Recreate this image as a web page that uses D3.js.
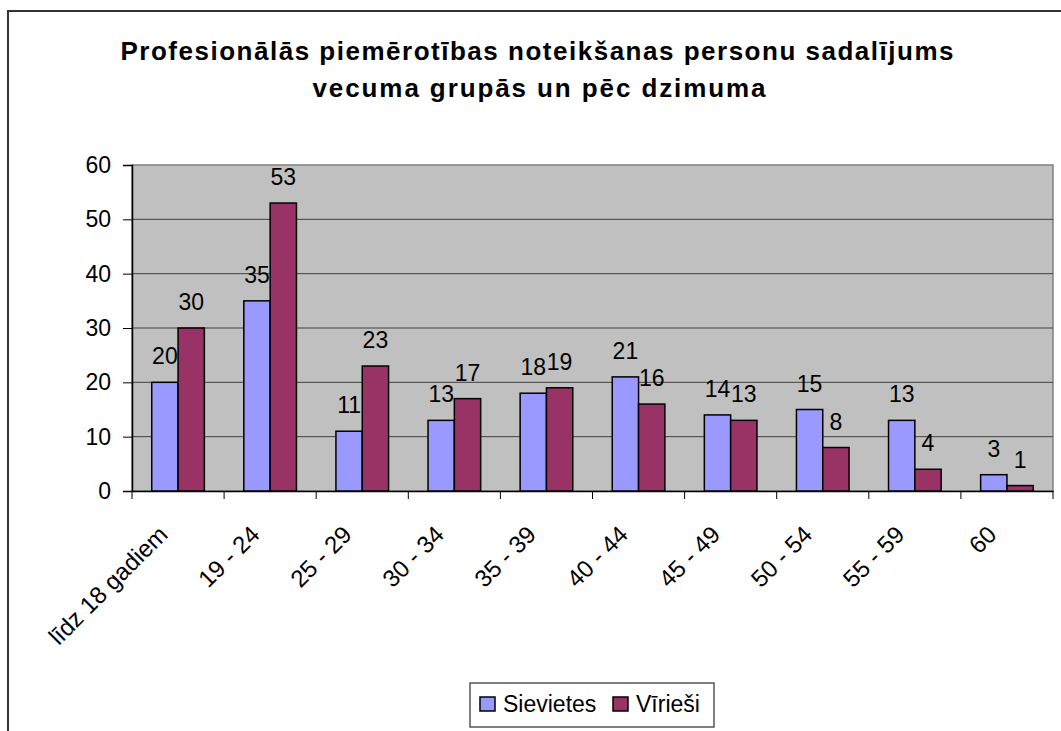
<!DOCTYPE html>
<html>
<head>
<meta charset="utf-8">
<script src="https://cdn.jsdelivr.net/npm/d3@7"></script>
<style>
  body { margin: 0; background: #fff; }
  svg text { font-family: "Liberation Sans", Arial, sans-serif; }
</style>
</head>
<body>
<svg id="chart"></svg>
<script>
var categories = ["līdz 18 gadiem", "19 - 24", "25 - 29", "30 - 34", "35 - 39", "40 - 44", "45 - 49", "50 - 54", "55 - 59", "60"];
var sievietes = [20, 35, 11, 13, 18, 21, 14, 15, 13, 3];
var virieši = [30, 53, 23, 17, 19, 16, 13, 8, 4, 1];
var seriesNames = ["Sievietes", "Vīrieši"];
var seriesColors = ["#9999FF", "#993366"];
var yTicks = [0, 10, 20, 30, 40, 50, 60];

var svgWidth = 1061, svgHeight = 731;
var plot = { left: 132, top: 165, right: 1053, bottom: 491 };

var svg = d3.select("#chart")
    .attr("width", svgWidth)
    .attr("height", svgHeight);

// chart frame
svg.append("rect")
    .attr("x", 8).attr("y", 11)
    .attr("width", 1070).attr("height", 740)
    .attr("fill", "#fff")
    .attr("stroke", "#333")
    .attr("stroke-width", 2);

// title
var title = svg.append("text")
    .attr("text-anchor", "middle")
    .style("font-weight", "bold")
    .style("font-size", "26px");
title.append("tspan").attr("x", 537).attr("y", 60)
    .attr("textLength", 833).attr("lengthAdjust", "spacing")
    .text("Profesionālās piemērotības noteikšanas personu sadalījums");
title.append("tspan").attr("x", 539).attr("y", 97)
    .attr("textLength", 453).attr("lengthAdjust", "spacing")
    .text("vecuma grupās un pēc dzimuma");

var x = d3.scaleBand()
    .domain(categories)
    .range([plot.left, plot.right]);

var barW = x.bandwidth() / 3.5;   // gap width 150%
var x1 = d3.scaleBand()
    .domain(seriesNames)
    .range([0, barW * 2]);

var y = d3.scaleLinear()
    .domain([0, 60])
    .range([plot.bottom, plot.top]);

// plot area
svg.append("rect")
    .attr("x", plot.left).attr("y", plot.top)
    .attr("width", plot.right - plot.left)
    .attr("height", plot.bottom - plot.top)
    .attr("fill", "#C0C0C0")
    .attr("stroke", "#808080")
    .attr("stroke-width", 1.5);

// gridlines
svg.append("g")
    .selectAll("line")
    .data(yTicks.filter(function(d) { return d > 0 && d < 60; }))
    .enter()
    .append("line")
    .attr("x1", plot.left).attr("x2", plot.right)
    .attr("y1", function(d) { return y(d); })
    .attr("y2", function(d) { return y(d); })
    .attr("stroke", "#404040")
    .attr("stroke-width", 1);

// y axis
var yAxis = svg.append("g")
    .attr("transform", "translate(" + plot.left + ",0)")
    .call(d3.axisLeft(y).tickValues(yTicks).tickSize(9).tickPadding(12));
yAxis.select(".domain").attr("stroke", "#000").attr("stroke-width", 1.5);
yAxis.selectAll(".tick line").attr("stroke", "#000");
yAxis.selectAll("text")
    .style("font-size", "23px")
    .attr("fill", "#000");

// x axis
var xAxis = svg.append("g")
    .attr("transform", "translate(0," + plot.bottom + ")")
    .call(d3.axisBottom(x).tickSize(0).tickFormat(""));
xAxis.select(".domain").attr("stroke", "#000").attr("stroke-width", 1.5);
xAxis.selectAll(".tick").remove();
xAxis.selectAll(".sep")
    .data(d3.range(categories.length + 1))
    .enter()
    .append("line")
    .attr("x1", function(i) { return plot.left + i * x.step(); })
    .attr("x2", function(i) { return plot.left + i * x.step(); })
    .attr("y1", 0).attr("y2", 8)
    .attr("stroke", "#000");

svg.append("g")
    .selectAll("text")
    .data(categories)
    .enter()
    .append("text")
    .attr("text-anchor", "end")
    .attr("transform", function(d) {
        return "translate(" + (x(d) + x.bandwidth() / 2 - 9) + "," + (plot.bottom + 45) + ") rotate(-45)";
    })
    .style("font-size", "24px")
    .text(function(d) { return d; });

// bars
var rows = categories.map(function(c, i) {
    return { cat: c, vals: [sievietes[i], virieši[i]] };
});

var groups = svg.append("g")
    .selectAll("g")
    .data(rows)
    .enter()
    .append("g")
    .attr("transform", function(d) { return "translate(" + (x(d.cat) + (x.bandwidth() - barW * 2) / 2) + ",0)"; });

groups.selectAll("rect")
    .data(function(d) { return d.vals.map(function(v, j) { return { name: seriesNames[j], v: v, j: j }; }); })
    .enter()
    .append("rect")
    .attr("x", function(d) { return x1(d.name); })
    .attr("y", function(d) { return y(d.v); })
    .attr("width", x1.bandwidth())
    .attr("height", function(d) { return y(0) - y(d.v); })
    .attr("fill", function(d) { return seriesColors[d.j]; })
    .attr("stroke", "#000")
    .attr("stroke-width", 1.5);

groups.selectAll("text")
    .data(function(d) { return d.vals.map(function(v, j) { return { name: seriesNames[j], v: v }; }); })
    .enter()
    .append("text")
    .attr("text-anchor", "middle")
    .attr("x", function(d) { return x1(d.name) + x1.bandwidth() / 2; })
    .attr("y", function(d) { return y(d.v) - 18; })
    .style("font-size", "23px")
    .text(function(d) { return d.v; });

// legend
var legend = svg.append("g").attr("transform", "translate(470,683)");
legend.append("rect")
    .attr("width", 244).attr("height", 44)
    .attr("fill", "#fff")
    .attr("stroke", "#555")
    .attr("stroke-width", 1.5);
var legendX = [10, 143];
var item = legend.selectAll(".item")
    .data(seriesNames)
    .enter()
    .append("g")
    .attr("transform", function(d, i) { return "translate(" + legendX[i] + ",0)"; });
item.append("rect")
    .attr("y", 14).attr("width", 15).attr("height", 14)
    .attr("fill", function(d, i) { return seriesColors[i]; })
    .attr("stroke", "#000")
    .attr("stroke-width", 1.5);
item.append("text")
    .attr("x", 23).attr("y", 29)
    .style("font-size", "23px")
    .text(function(d) { return d; });
</script>
</body>
</html>
